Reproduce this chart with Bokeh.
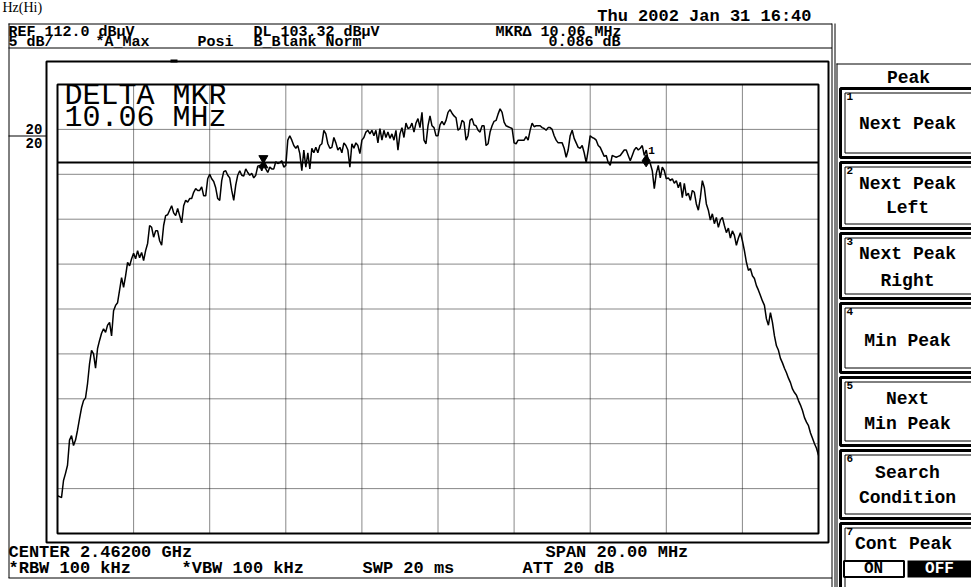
import numpy as np
from bokeh.plotting import figure
from bokeh.models import Range1d
from bokeh.core.properties import value
from bokeh.embed import file_html
from bokeh.resources import INLINE

# ---------------- data ----------------
center_ghz = 2.46200
span_mhz = 20.0
ref_level_dbuv = 112.0
db_per_div = 5.0
display_line_dbuv = 103.32

# trace A (max hold), dBuV, sweep points evenly spread over the span
level_dbuv = [
    66.2, 66.1, 66.0, 67.9, 68.7, 69.6, 72.4, 72.9, 71.8, 72.4, 73.5, 74.8, 76.0, 76.8, 77.1, 78.7, 80.9, 82.4, 82.0, 80.4,
    82.6, 83.5, 84.3, 84.8, 84.4, 85.2, 85.5, 84.0, 86.8, 87.4, 87.7, 89.1, 90.5, 89.4, 90.7, 92.2, 91.8, 92.6, 93.2, 92.6,
    93.5, 92.7, 93.3, 92.4, 93.5, 94.3, 96.3, 96.1, 95.0, 95.7, 95.7, 94.6, 94.1, 96.3, 97.4, 97.5, 98.0, 98.5, 97.7, 97.4,
    98.2, 97.4, 96.6, 98.5, 99.1, 98.9, 99.3, 99.3, 100.0, 100.4, 100.2, 100.2, 100.6, 99.6, 99.6, 101.5, 102.0, 101.5, 101.2, 100.5,
    99.3, 99.1, 101.3, 102.3, 102.4, 101.9, 101.6, 100.2, 99.1, 100.8, 101.9, 102.4, 101.9, 101.8, 102.6, 102.2, 101.9, 102.1, 101.6, 101.9,
    102.9, 103.0, 102.4, 103.2, 102.6, 102.2, 102.8, 102.6, 102.6, 103.4, 103.2, 103.3, 103.5, 102.8, 103.0, 105.8, 106.3, 105.8, 105.2, 104.9,
    105.2, 104.3, 102.4, 104.7, 102.8, 104.4, 102.6, 104.9, 104.4, 105.0, 104.4, 105.2, 105.4, 106.9, 106.5, 105.4, 104.9, 105.0, 106.1, 105.5,
    104.7, 105.0, 104.4, 105.5, 105.2, 104.7, 102.8, 105.4, 104.9, 105.5, 105.2, 104.3, 105.8, 106.1, 106.7, 106.9, 106.5, 106.9, 106.3, 106.9,
    105.5, 107.1, 105.8, 106.9, 106.1, 106.7, 106.0, 106.5, 105.8, 106.9, 104.7, 106.5, 107.2, 106.1, 107.7, 107.1, 107.2, 107.7, 106.7, 107.7,
    108.2, 107.2, 108.9, 105.8, 105.4, 107.4, 108.5, 107.4, 107.2, 106.3, 106.3, 107.5, 107.9, 107.5, 108.0, 108.9, 109.2, 108.8, 108.5, 108.3,
    106.9, 107.1, 108.0, 107.8, 105.8, 106.3, 108.0, 108.2, 107.5, 107.4, 106.9, 106.7, 107.4, 107.4, 105.2, 105.4, 106.7, 107.4, 107.9, 108.0,
    108.7, 109.3, 108.9, 107.8, 107.4, 107.3, 107.2, 107.1, 105.5, 105.4, 105.8, 105.8, 105.8, 105.8, 106.2, 105.8, 106.9, 107.7, 107.3, 107.4,
    107.4, 107.4, 107.2, 107.1, 106.9, 107.2, 107.2, 107.0, 106.3, 105.8, 105.5, 105.5, 105.5, 104.9, 103.9, 104.7, 106.3, 106.9, 106.0, 105.5,
    105.0, 104.9, 105.2, 104.4, 103.3, 104.7, 106.3, 106.1, 106.0, 105.8, 105.2, 105.0, 104.5, 104.0, 104.1, 103.3, 103.0, 104.1, 104.0, 103.9,
    104.0, 104.1, 104.4, 104.7, 104.7, 104.1, 103.5, 104.1, 104.7, 105.0, 104.7, 104.9, 105.2, 104.1, 104.7, 103.5, 103.2, 102.4, 100.4, 102.1,
    103.0, 101.6, 102.8, 102.4, 101.5, 101.6, 101.3, 101.5, 101.0, 101.3, 100.5, 101.1, 99.4, 101.0, 99.6, 99.9, 99.1, 100.2, 100.0, 98.7,
    98.0, 99.4, 101.3, 100.5, 98.7, 98.0, 96.9, 97.6, 96.5, 97.2, 96.1, 96.9, 97.2, 96.3, 95.5, 96.0, 94.9, 95.7, 95.2, 94.1,
    94.9, 95.5, 94.6, 93.5, 92.2, 91.3, 91.5, 90.7, 90.4, 89.6, 89.1, 88.5, 87.9, 87.4, 85.9, 85.2, 86.6, 85.5, 84.0, 82.9,
    82.4, 81.5, 81.0, 80.4, 79.9, 79.3, 78.8, 78.1, 77.7, 77.4, 76.8, 76.3, 75.7, 74.9, 74.4, 74.0, 73.2, 72.6, 72.0, 71.5, 70.7,
]
freq_offset_mhz = np.linspace(-span_mhz / 2, span_mhz / 2, len(level_dbuv))

marker_freq_mhz = [-4.59, 5.47]       # reference marker, delta marker (offset from centre)
marker_level_dbuv = [103.4, 103.5]

header_row1 = ["REF 112.0 dB\u00b5V", "DL 103.32 dB\u00b5V", "MKR\u0394 10.06 MHz"]
header_row2 = ["5 dB/", "*A_Max", "Posi", "B_Blank Norm", "0.086 dB"]
date_text = "Thu 2002 Jan 31 16:40"
footer_row1 = ["CENTER 2.46200 GHz", "SPAN 20.00 MHz"]
footer_row2 = ["*RBW 100 kHz", "*VBW 100 kHz", "SWP 20 ms", "ATT 20 dB"]
big_text = ["DELTA MKR", "10.06 MHz"]
menu_title = "Peak"
menu_keys = [["Next Peak"], ["Next Peak", "Left"], ["Next Peak", "Right"], ["Min Peak"],
             ["Next", "Min Peak"], ["Search", "Condition"], ["Cont Peak"]]

# ---------------- layout (picture pixels) ----------------
W, H = 971, 587
X0, X1, Y0, Y1 = 0, W, H, 0                   # pixel window of the canvas
GX0, GX1, GY0, GY1 = 57, 818, 84, 533         # graticule box in pixels
mhz_per_px = span_mhz / (GX1 - GX0)
db_per_px = 10 * db_per_div / (GY1 - GY0)
bottom_level = ref_level_dbuv - 10 * db_per_div

p = figure(width=W, height=H, x_range=Range1d(X0, X1), y_range=Range1d(Y0, Y1),
           output_backend="svg", toolbar_location=None,
           x_axis_location=None, y_axis_location=None, min_border=0)
p.min_border_left = p.min_border_right = p.min_border_top = p.min_border_bottom = 0
p.outline_line_color = None
p.background_fill_color = "white"
p.border_fill_color = "white"
p.xgrid.visible = False
p.ygrid.visible = False

p.extra_x_ranges = {"f": Range1d(-span_mhz / 2 - (GX0 - X0) * mhz_per_px,
                                 span_mhz / 2 + (X1 - GX1) * mhz_per_px)}
p.extra_y_ranges = {"L": Range1d(bottom_level - (Y0 - GY1) * db_per_px,
                                 ref_level_dbuv + (GY0 - Y1) * db_per_px)}
D = dict(x_range_name="f", y_range_name="L")

MONO = value("Liberation Mono")


def txt(x, y, s, size, align="left", color="black", bold=True, font=MONO):
    p.text(x=[x], y=[y], text=[s], text_font=font, text_font_size=f"{size}px",
           text_font_style="bold" if bold else "normal", text_align=align,
           text_baseline="middle", text_color=color)


def seg(x0, y0, x1, y1, w=1, color="black"):
    p.segment(x0=[x0], y0=[y0], x1=[x1], y1=[y1], line_color=color, line_width=w)


# ---- instrument screen frame ----
seg(8.5, 23, 8.5, 577.5)
seg(8, 23.5, 831.5, 23.5)
seg(8, 47.5, 831.5, 47.5)
seg(8, 577.5, 831.5, 577.5)
seg(831.5, 23, 831.5, Y0)
seg(834.5, 23, 834.5, Y0)
p.quad(left=[46], right=[828], top=[61], bottom=[542], fill_color=None, line_color="black", line_width=2)
p.quad(left=[170], right=[177], top=[59], bottom=[62], fill_color="black", line_color=None)
seg(8, 135.5, 46, 135.5)
txt(25, 128, "20", 14)
txt(25, 142, "20", 14)

# ---- graticule (data coordinates) ----
f_lo, f_hi = -span_mhz / 2, span_mhz / 2
vx = [f_lo + i * span_mhz / 10 for i in range(1, 10)]
hy = [bottom_level + i * db_per_div for i in range(1, 10)]
p.segment(x0=vx, y0=[bottom_level] * 9, x1=vx, y1=[ref_level_dbuv] * 9,
          line_color="#111111", line_width=1, line_dash="1 1", **D)
p.segment(x0=[f_lo] * 9, y0=hy, x1=[f_hi] * 9, y1=hy,
          line_color="#111111", line_width=1, line_dash="1 1", **D)

# display line
p.segment(x0=[f_lo], y0=[display_line_dbuv], x1=[f_hi], y1=[display_line_dbuv],
          line_color="black", line_width=2, **D)

# trace
p.line(freq_offset_mhz, level_dbuv, line_color="black", line_width=1.5, **D)

p.quad(left=[f_lo], right=[f_hi], bottom=[bottom_level], top=[ref_level_dbuv],
       fill_color=None, line_color="black", line_width=2, **D)

# markers
off = 3.5 * db_per_px
p.scatter([marker_freq_mhz[0]], [marker_level_dbuv[0] + off], marker="inverted_triangle",
          size=9, fill_color="black", line_color="black", **D)
p.scatter([marker_freq_mhz[0]], [marker_level_dbuv[0] - off], marker="triangle",
          size=9, fill_color="black", line_color="black", **D)
p.scatter([marker_freq_mhz[1]], [marker_level_dbuv[1]], marker="diamond",
          size=12, fill_color="black", line_color="black", **D)
p.text(x=[marker_freq_mhz[1]], y=[marker_level_dbuv[1]], text=["1"], x_offset=2, y_offset=-10,
       text_font=MONO, text_font_size="11px", text_font_style="bold",
       text_baseline="middle", text_align="left", **D)

# big delta marker readout
txt(64, 95, big_text[0], 30, bold=False)
txt(64, 117, big_text[1], 30, bold=False)

# ---- header / footer texts ----
txt(811, 16, date_text, 17, align="right")
for s, x in zip(header_row1, [8, 253, 495]):
    txt(x, 31.5, s, 15)
for s, x in zip(header_row2, [8, 95, 197, 253, 548]):
    txt(x, 42, s, 15)
for s, x in zip(footer_row1, [8, 545]):
    txt(x, 552, s, 17)
for s, x in zip(footer_row2, [8, 181, 362, 522]):
    txt(x, 568, s, 17)
txt(2, 7, "Hz(Hi)", 14, bold=False, font=value("Liberation Serif"))

# ---- soft-key menu ----
seg(836.5, 63, 836.5, Y0)
seg(836, 63.5, X1, 63.5)
txt(908, 77, menu_title, 18, align="center")
key_boxes = [(88, 157), (162, 228), (233, 298), (303, 372), (377, 445), (450, 518), (523, 592)]
text_rows = [[123], [183, 207], [253, 280], [340], [398, 423], [472, 497], [543]]
for i, ((top, bot), labels, rows) in enumerate(zip(key_boxes, menu_keys, text_rows)):
    p.quad(left=[840], right=[990], top=[top], bottom=[bot], fill_color=None,
           line_color="black", line_width=3)
    p.quad(left=[844.5], right=[990], top=[top + 4.5], bottom=[bot - 4.5], fill_color=None,
           line_color="black", line_width=1)
    txt(846, top + 8, str(i + 1), 11)
    for lab, y in zip(labels, rows):
        txt(907 if i != 6 else 903, y, lab, 18, align="center")
# ON / OFF toggle
p.quad(left=[843.5], right=[903.5], top=[560.5], bottom=[576.5], fill_color="white",
       line_color="black", line_width=2)
p.quad(left=[907], right=[990], top=[560], bottom=[577], fill_color="black", line_color=None)
txt(873, 568, "ON", 16, align="center")
txt(939, 568, "OFF", 16, align="center", color="white")

open("out.html", "w").write(file_html(p, INLINE))
